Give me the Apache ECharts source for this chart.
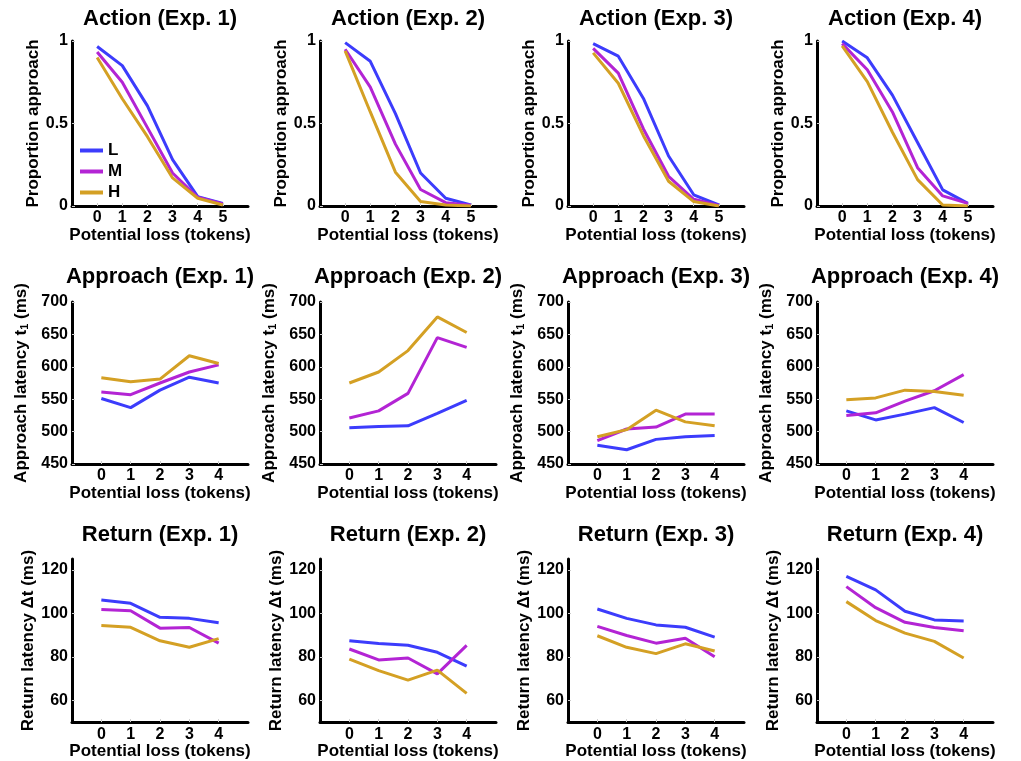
<!DOCTYPE html>
<html>
<head>
<meta charset="utf-8">
<script src="https://cdn.jsdelivr.net/npm/echarts@6/dist/echarts.min.js"></script>
<style>
  html, body { margin: 0; padding: 0; background: #fff; }
  #chart { width: 1021px; height: 761px; }
</style>
</head>
<body>
<div id="chart"></div>
<script>
// levels of the threat (legend)
const levels = ['L', 'M', 'H']
const colors = ['#3c3cfc', '#b324d4', '#d4a024']

const actionX = [0, 1, 2, 3, 4, 5]
const latencyX = [0, 1, 2, 3, 4]

// proportion approach, one row per level L, M, H
const actionExp1 = [
  [0.967, 0.851, 0.607, 0.281, 0.057, 0.016],
  [0.933, 0.75, 0.475, 0.2, 0.053, 0.012],
  [0.9, 0.65, 0.42, 0.17, 0.047, 0.006]
]
const actionExp2 = [
  [0.99, 0.877, 0.56, 0.2, 0.047, 0.006],
  [0.95, 0.72, 0.375, 0.1, 0.02, 0.005],
  [0.94, 0.57, 0.205, 0.027, 0.006, 0]
]
const actionExp3 = [
  [0.984, 0.908, 0.652, 0.303, 0.068, 0.006],
  [0.955, 0.805, 0.467, 0.18, 0.041, 0.004],
  [0.928, 0.744, 0.426, 0.15, 0.027, 0]
]
const actionExp4 = [
  [1.0, 0.898, 0.672, 0.385, 0.098, 0.016],
  [0.984, 0.826, 0.57, 0.232, 0.061, 0.016],
  [0.97, 0.754, 0.447, 0.16, 0.006, 0]
]

// approach latency t1 (ms)
const approachExp1 = [
  [551, 537, 564, 584, 575],
  [561, 557, 575, 592, 603],
  [583, 577, 581, 617, 605]
]
const approachExp2 = [
  [506, 508, 509, 528, 548],
  [521, 532, 559, 645, 630],
  [575, 592, 625, 677, 653]
]
const approachExp3 = [
  [479, 472, 488, 492, 494],
  [486, 504, 507, 527, 527],
  [492, 503, 533, 515, 509]
]
const approachExp4 = [
  [532, 518, 527, 537, 514],
  [525, 529, 547, 563, 588],
  [549, 552, 564, 562, 556]
]

// return latency dt (ms)
const returnExp1 = [
  [106.1, 104.6, 98.2, 97.7, 95.7],
  [101.8, 101.2, 93.2, 93.5, 86.3],
  [94.4, 93.6, 87.4, 84.4, 88.4]
]
const returnExp2 = [
  [87.4, 86.1, 85.3, 82.1, 75.7],
  [83.6, 78.6, 79.5, 72.2, 85.3],
  [79.0, 73.7, 69.3, 73.9, 63.2]
]
const returnExp3 = [
  [102.0, 97.7, 94.7, 93.6, 89.1],
  [94.0, 89.8, 86.3, 88.6, 80.0],
  [89.7, 84.4, 81.5, 86.0, 82.7]
]
const returnExp4 = [
  [117.0, 110.8, 101.0, 97.0, 96.5],
  [112.3, 102.6, 95.9, 93.5, 92.0],
  [105.4, 96.7, 90.9, 87.1, 79.5]
]

const actionTicks = [0, 0.5, 1]
const approachTicks = [450, 500, 550, 600, 650, 700]
const returnTicks = [60, 80, 100, 120]

const font = '"Liberation Sans", Arial, Helvetica, sans-serif'
const colLeft = [72, 320, 568, 817]
const gridW = 176

const rows = [
  {
    name: 'Action', x: actionX, xMax: 6, data: [actionExp1, actionExp2, actionExp3, actionExp4],
    yMin: 0, yMax: 1, ticks: actionTicks,
    yName: 'Proportion approach', yGap: 30,
    top: 41, height: 165, titleTop: 8
  },
  {
    name: 'Approach', x: latencyX, xMax: 5, data: [approachExp1, approachExp2, approachExp3, approachExp4],
    yMin: 450, yMax: 700, ticks: approachTicks,
    yName: 'Approach latency t{s|1} (ms)', yGap: 42,
    top: 302, height: 162, titleTop: 266
  },
  {
    name: 'Return', x: latencyX, xMax: 5, data: [returnExp1, returnExp2, returnExp3, returnExp4],
    yMin: 50, yMax: 125, ticks: returnTicks,
    yName: 'Return latency \u0394t (ms)', yGap: 35,
    top: 559, height: 164, titleTop: 524
  }
]

const grid = []
const xAxis = []
const yAxis = []
const title = []
const series = []

rows.forEach((row, r) => {
  colLeft.forEach((left, c) => {
    const idx = grid.length
    grid.push({ left: left, top: row.top, width: gridW, height: row.height })
    title.push({
      text: row.name + ' (Exp. ' + (c + 1) + ')',
      left: left + gridW / 2,
      top: row.titleTop,
      textAlign: 'center',
      padding: 0,
      textStyle: { fontFamily: font, fontWeight: 'bold', fontSize: 22, color: '#000' }
    })
    xAxis.push({
      type: 'value',
      gridIndex: idx,
      min: -1,
      max: row.xMax,
      interval: 1,
      name: 'Potential loss (tokens)',
      nameLocation: 'middle',
      nameGap: 18,
      nameTextStyle: { fontFamily: font, fontWeight: 'bold', fontSize: 17, color: '#000' },
      axisLine: { onZero: false, lineStyle: { color: '#000', width: 3 } },
      axisTick: { inside: true, length: 3, lineStyle: { color: '#ccc' }, customValues: row.x },
      axisLabel: {
        customValues: row.x,
        margin: 4,
        fontFamily: font, fontWeight: 'bold', fontSize: 16, color: '#000'
      },
      splitLine: { show: false }
    })
    yAxis.push({
      type: 'value',
      gridIndex: idx,
      min: row.yMin,
      max: row.yMax,
      name: row.yName,
      nameLocation: 'middle',
      nameGap: row.yGap,
      nameTextStyle: {
        fontFamily: font, fontWeight: 'bold', fontSize: 17, color: '#000',
        rich: { s: { fontFamily: font, fontWeight: 'bold', fontSize: 11, color: '#000', verticalAlign: 'bottom', padding: [7, 0, 0, 0] } }
      },
      axisLine: { show: true, onZero: false, lineStyle: { color: '#000', width: 3 } },
      axisTick: { show: true, inside: true, length: 3, lineStyle: { color: '#ccc' }, customValues: row.ticks },
      axisLabel: {
        customValues: row.ticks,
        margin: 4,
        fontFamily: font, fontWeight: 'bold', fontSize: 16, color: '#000'
      },
      splitLine: { show: false }
    })
    row.data[c].forEach((vals, k) => {
      series.push({
        name: levels[k],
        type: 'line',
        xAxisIndex: idx,
        yAxisIndex: idx,
        data: row.x.map((x, i) => [x, vals[i]]),
        symbol: 'none',
        color: colors[k],
        lineStyle: { width: 3, color: colors[k] },
        animation: false,
        z: 3
      })
    })
  })
})

const chart = echarts.init(document.getElementById('chart'))
chart.setOption({
  backgroundColor: '#fff',
  animation: false,
  title: title,
  grid: grid,
  xAxis: xAxis,
  yAxis: yAxis,
  legend: {
    data: levels,
    orient: 'vertical',
    left: 80,
    top: 142,
    padding: 0,
    icon: 'rect',
    itemWidth: 23,
    itemHeight: 4,
    itemGap: 4,
    textStyle: { fontFamily: font, fontWeight: 'bold', fontSize: 17, color: '#000', lineHeight: 17 }
  },
  series: series
})
</script>
</body>
</html>
